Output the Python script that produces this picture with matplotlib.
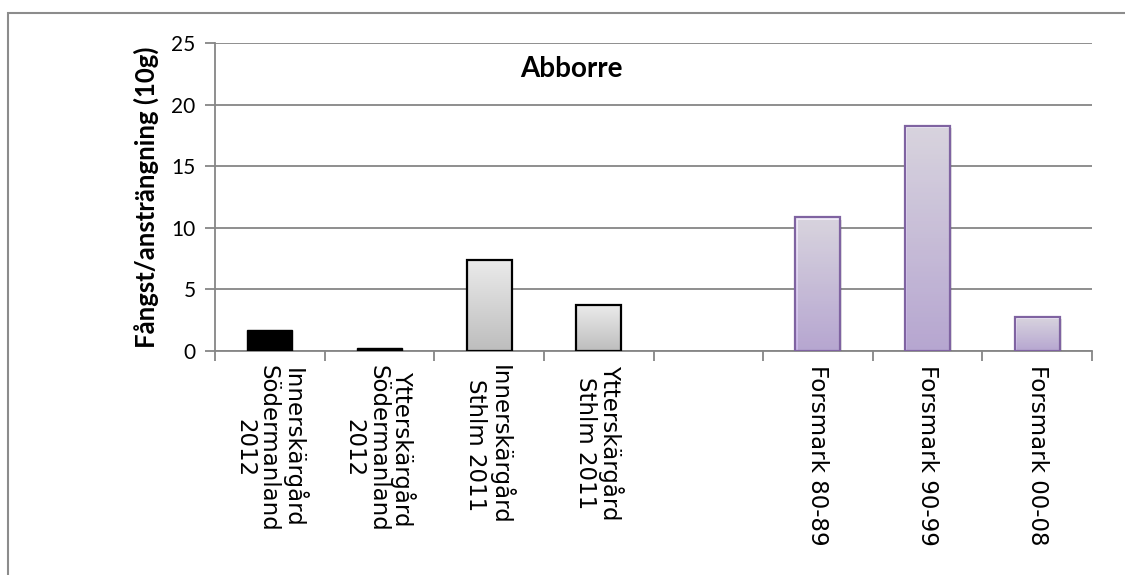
import matplotlib
matplotlib.use("Agg")
import matplotlib.pyplot as plt
import numpy as np
from matplotlib.patches import Rectangle
from matplotlib import patheffects
from matplotlib.colors import LinearSegmentedColormap

# Catch per unit effort, perch ("Abborre"); one empty slot between regions
categories = [
    "Innerskärgård\nSödermanland\n2012",
    "Ytterskärgård\nSödermanland\n2012",
    "Innerskärgård\nSthlm 2011",
    "Ytterskärgård\nSthlm 2011",
    "",
    "Forsmark 80-89",
    "Forsmark 90-99",
    "Forsmark 00-08",
]
values = [1.7, 0.22, 7.4, 3.7, None, 10.85, 18.3, 2.75]
groups = ["black", "black", "gray", "gray", None, "purple", "purple", "purple"]

yticks = [0, 5, 10, 15, 20, 25]

grid_col = "#868686"
fills = {
    "gray": ("#ebebeb", "#bdbdbd", "black"),
    "purple": ("#f1ecf8", "#c9b6e8", "#7f63a1"),
}

fig = plt.figure(figsize=(11.25, 5.75), dpi=100)

# outer chart frame, only its left and top edges fall inside the image
fig.add_artist(Rectangle((8 / 1125, -0.1), 1.2, 1 - 13 / 575 + 0.1,
                         transform=fig.transFigure, fill=False,
                         edgecolor="#8c8c8c", linewidth=1.5))

ax = fig.add_axes([215 / 1125, 1 - 351 / 575, (1092 - 215) / 1125, (351 - 43.3) / 575])

n = len(categories)
bar_w = 0.41

for p, (v, grp) in enumerate(zip(values, groups)):
    if v is None:
        continue
    if grp == "black":
        ax.bar(p, v, width=bar_w, color="black", edgecolor="black", linewidth=1, zorder=3)
        continue
    top, bottom, edge = fills[grp]
    bar = ax.bar(p, v, width=bar_w, facecolor="none", edgecolor=edge,
                 linewidth=1.6, zorder=4)[0]
    if grp == "purple":
        bar.set_path_effects([patheffects.SimplePatchShadow(offset=(1.5, -1.5), alpha=0.15),
                              patheffects.Normal()])
    cmap = LinearSegmentedColormap.from_list(grp, [bottom, top])
    grad = np.linspace(0, 1, 256).reshape(-1, 1)
    bx, by = bar.get_x(), bar.get_y()
    im = ax.imshow(grad, cmap=cmap, origin="lower", aspect="auto",
                   extent=(bx, bx + bar.get_width(), by, by + bar.get_height()),
                   zorder=3.5)
    im.set_clip_path(bar)

ax.set_xlim(-0.5, n - 0.5)
ax.set_ylim(0, 25)
ax.set_yticks(yticks)
ax.yaxis.grid(True, color=grid_col, linewidth=1.3)
ax.set_axisbelow(True)

# tick marks on slot boundaries, labels in slot centres
ax.set_xticks(np.arange(-0.5, n, 1.0))
ax.set_xticklabels([])
ax.tick_params(axis="x", direction="out", length=7, width=1.3, color=grid_col)
ax.set_xticks(np.arange(n), minor=True)
ax.set_xticklabels(categories, minor=True, rotation=270, ha="center", va="top",
                   fontsize=16.5, family="DejaVu Sans", linespacing=1.05)
ax.tick_params(axis="x", which="minor", length=0, pad=10)

ax.tick_params(axis="y", direction="out", length=7, width=1.3, color=grid_col,
               labelsize=15, pad=7)
for t in ax.get_yticklabels():
    t.set_family("Lato")

for s in ["top", "right"]:
    ax.spines[s].set_visible(False)
for s in ["left", "bottom"]:
    ax.spines[s].set_color(grid_col)
    ax.spines[s].set_linewidth(1.3)

ax.set_ylabel("Fångst/ansträngning (10g)", fontsize=18.5, fontweight="bold",
              family="Lato", labelpad=9)
ax.text(0.406, 0.915, "Abborre", transform=ax.transAxes, ha="center", va="center",
        fontsize=20, fontweight="bold", family="Lato")

fig.savefig("out.png", dpi=100)
